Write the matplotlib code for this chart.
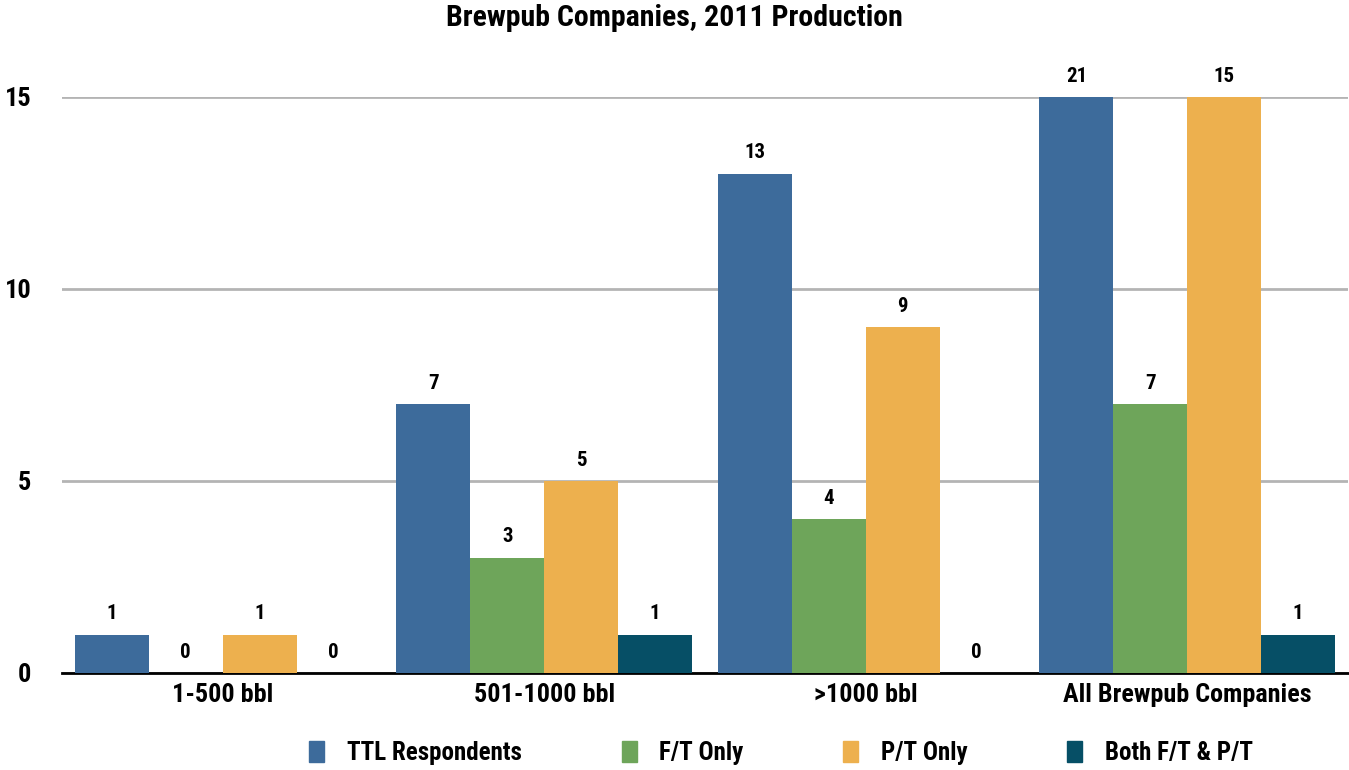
import matplotlib
matplotlib.use('Agg')
import matplotlib.pyplot as plt
import numpy as np
from matplotlib.patches import Patch

plt.rcParams['font.family'] = ['Roboto Condensed', 'Barlow Condensed', 'Roboto', 'DejaVu Sans']
plt.rcParams['font.weight'] = 'bold'

categories = ['1-500 bbl', '501-1000 bbl', '>1000 bbl', 'All Brewpub Companies']
series_names = ['TTL Respondents', 'F/T Only', 'P/T Only', 'Both F/T & P/T']
ttl = [1, 7, 13, 21]
ft_only = [0, 3, 4, 7]
pt_only = [1, 5, 9, 15]
both = [0, 1, 0, 1]
colors = ['#3d6b9b', '#6ea55a', '#edb04e', '#064f66']
y_max = 15

fig = plt.figure(figsize=(13.49, 7.70), dpi=100)
ax = fig.add_axes([62 / 1349, 97 / 770, (1348 - 62) / 1349, (673 - 97) / 770])

x = np.arange(len(categories))
width = 0.23
all_series = [ttl, ft_only, pt_only, both]
for i, vals in enumerate(all_series):
    xs = x + (i - 1.5) * width
    ax.bar(xs, vals, width=width, color=colors[i], zorder=3)
    for xv, v in zip(xs, vals):
        ax.annotate(str(v), (xv, min(v, y_max)), xytext=(0, 15), textcoords='offset points',
                    ha='center', va='center', fontsize=15, fontweight='bold',
                    annotation_clip=False)

ax.set_xlim(-0.5, 3.5)
ax.set_ylim(0, y_max)
ax.set_yticks([0, 5, 10, 15])
ax.yaxis.grid(True, color='#b4b4b4', linewidth=2, zorder=0)
ax.set_axisbelow(True)
for s in ['top', 'right', 'left']:
    ax.spines[s].set_visible(False)
ax.spines['bottom'].set_color('black')
ax.spines['bottom'].set_linewidth(2)
ax.spines['bottom'].set_zorder(2)

ax.set_xticks(x)
ax.set_xticklabels(categories, fontsize=18.8, fontweight='bold')
ax.tick_params(axis='x', length=0, pad=7)
ax.tick_params(axis='y', length=0, pad=22, labelsize=19)
for lbl in ax.get_yticklabels():
    lbl.set_fontweight('bold')

fig.text(0.5, 1 - 18 / 770, 'Brewpub Companies, 2011 Production', ha='center', va='center',
         fontsize=21.5, fontweight='bold')

handles = [Patch(color=c) for c in colors]
fig.legend(handles, series_names, loc='center', bbox_to_anchor=(781 / 1349, 1 - 753 / 770),
           ncol=4, frameon=False, fontsize=18, handlelength=0.6, handleheight=0.9,
           handletextpad=0.9, columnspacing=4.0)

fig.savefig('out.png', dpi=100)
